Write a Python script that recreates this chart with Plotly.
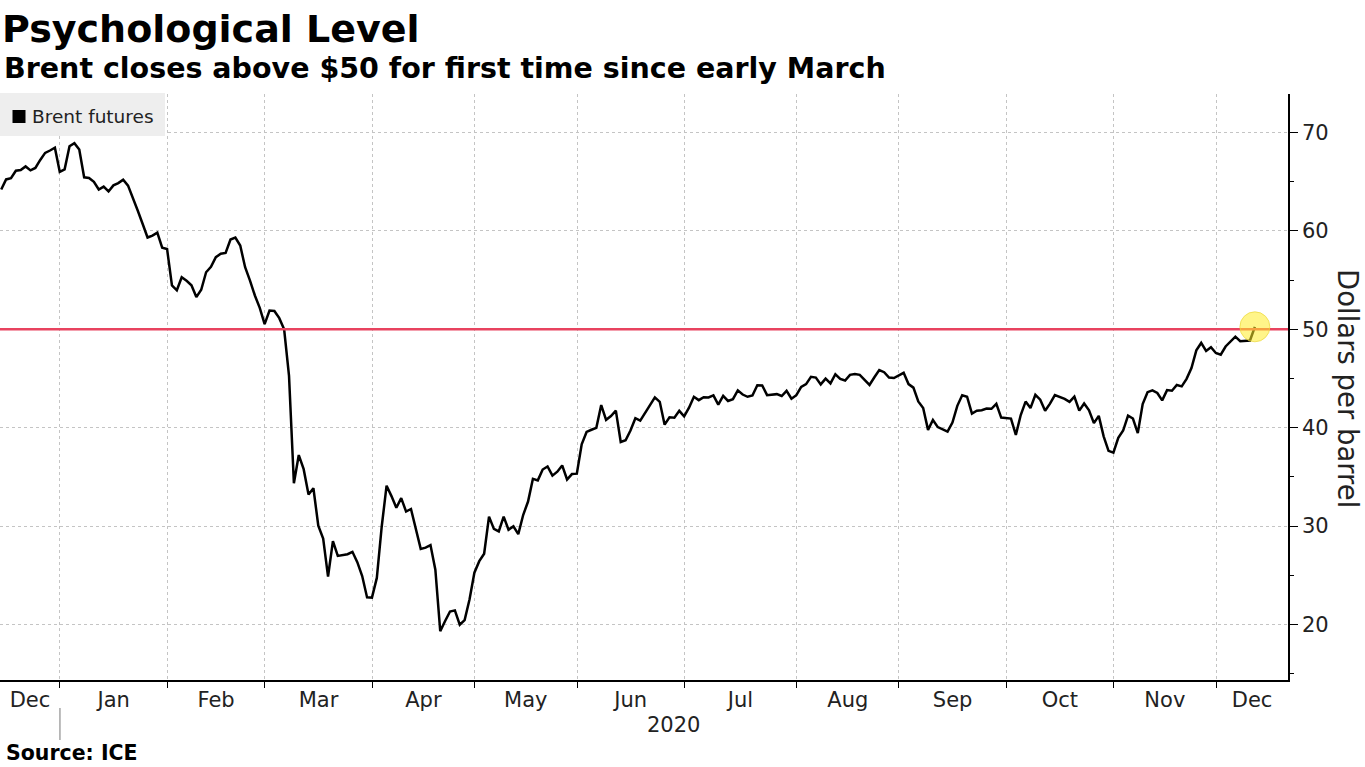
import pandas as pd
import plotly.graph_objects as go

# ---------------- data ----------------
series_name = "Brent futures"
first_session = "2019-12-12"
last_session = "2020-12-10"
closed_days = ["2019-12-25", "2020-01-01", "2020-04-10"]   # no settlement on these weekdays

dec_2019 = [64.20, 65.22, 65.34, 66.10, 66.17, 66.54, 66.14, 66.39, 67.20, 67.92, 68.16, 68.44, 66.00]
jan_2020 = [66.25, 68.60, 68.91, 68.27, 65.44, 65.37, 64.98, 64.20, 64.49, 64.00, 64.62, 64.85,
            65.20, 64.59, 63.21, 62.04, 60.69, 59.32, 59.51, 59.81, 58.29, 58.16]
feb_2020 = [54.45, 53.96, 55.28, 54.93, 54.47, 53.27, 54.01, 55.79, 56.34, 57.32, 57.67, 57.75,
            59.12, 59.31, 58.50, 56.30, 54.95, 53.43, 52.18, 50.52]
mar_2020 = [51.90, 51.86, 51.13, 49.99, 45.27, 34.36, 37.22, 35.79, 33.22, 33.85, 30.05, 28.73,
            24.88, 28.47, 26.98, 27.03, 27.15, 27.39, 26.34, 24.93, 22.76, 22.74]
apr_2020 = [24.74, 29.94, 34.11, 33.05, 31.87, 32.84, 31.48, 31.74, 29.60, 27.69, 27.82, 28.08,
            25.57, 19.33, 20.37, 21.33, 21.44, 19.99, 20.46, 22.54, 25.27]
may_2020 = [26.44, 27.20, 30.97, 29.72, 29.46, 30.97, 29.63, 29.98, 29.19, 31.13, 32.50, 34.81,
            34.65, 35.75, 36.06, 35.13, 35.53, 36.17, 34.74, 35.29, 35.33]
jun_2020 = [38.32, 39.57, 39.79, 39.99, 42.30, 40.80, 41.18, 41.73, 38.55, 38.73, 39.72, 40.96,
            40.71, 41.51, 42.19, 43.08, 42.63, 40.31, 41.05, 41.02, 41.71, 41.15]
jul_2020 = [42.03, 43.14, 42.80, 43.10, 43.08, 43.29, 42.35, 43.24, 42.72, 42.90, 43.79, 43.37,
            43.14, 43.28, 44.32, 44.29, 43.31, 43.34, 43.41, 43.22, 43.75, 42.94, 43.30]
aug_2020 = [44.15, 44.43, 45.17, 45.09, 44.40, 44.99, 44.50, 45.43, 44.96, 44.80, 45.37, 45.46,
            45.37, 44.90, 44.35, 45.13, 45.86, 45.64, 45.09, 45.05, 45.28]
sep_2020 = [45.58, 44.43, 44.07, 42.66, 42.01, 39.78, 40.79, 40.06, 39.83, 39.61, 40.53, 42.22,
            43.30, 43.15, 41.44, 41.72, 41.77, 41.94, 41.92, 42.43, 41.03, 40.95]
oct_2020 = [40.93, 39.27, 41.29, 42.65, 41.99, 43.34, 42.85, 41.72, 42.45, 43.32, 43.16, 42.93,
            42.62, 43.16, 41.73, 42.46, 41.77, 40.46, 41.20, 39.12, 37.65, 37.46]
nov_2020 = [38.97, 39.71, 41.23, 40.93, 39.45, 42.40, 43.61, 43.80, 43.53, 42.78, 43.82, 43.75,
            44.34, 44.20, 44.96, 46.06, 47.86, 48.61, 47.80, 48.18, 47.59]
dec_2020 = [47.42, 48.25, 48.71, 49.25, 48.79, 48.84, 48.86, 50.25]

month_labels = ["Dec", "Jan", "Feb", "Mar", "Apr", "May", "Jun", "Jul", "Aug", "Sep", "Oct", "Nov", "Dec"]
year_label = "2020"
y_ticks = [20, 30, 40, 50, 60, 70]
threshold = 50

title = "Psychological Level"
subtitle = "Brent closes above $50 for first time since early March"
y_title = "Dollars per barrel"
source = "Source: ICE"

# ---------------- series assembly ----------------
brent = (dec_2019 + jan_2020 + feb_2020 + mar_2020 + apr_2020 + may_2020 + jun_2020 +
         jul_2020 + aug_2020 + sep_2020 + oct_2020 + nov_2020 + dec_2020)
closed = pd.to_datetime(closed_days)
sessions = pd.bdate_range(first_session, last_session)
sessions = sessions[~sessions.isin(closed)]
assert len(sessions) == len(brent), (len(sessions), len(brent))
x_pts = sessions + pd.Timedelta(hours=23)  # each close drawn at the end of its session

# ---------------- layout geometry ----------------
W, H = 1365, 767
PL, PR, PT, PB = 0, 1288, 94, 680
x_start = pd.Timestamp("2019-12-12 17:00")
x_end = pd.Timestamp("2020-12-21 18:00")
y_range = [14.37, 73.9]

cal = pd.bdate_range("2019-11-01", "2021-02-28")
cal = cal[~cal.isin(closed)]


def to_slot(t):
    t = pd.Timestamp(t)
    d = t.normalize()
    i = cal.searchsorted(d)
    if i < len(cal) and cal[i] == d:
        return i + (t - d) / pd.Timedelta(days=1)
    return float(i)


def from_slot(s):
    i = int(s)
    return cal[i] + pd.Timedelta(days=s - i)


month_starts = pd.date_range("2020-01-01", "2020-12-01", freq="MS")
bounds = [from_slot(to_slot(m)) for m in month_starts]
edges = [x_start] + bounds + [x_end]
label_pos = [from_slot((to_slot(a) + to_slot(b)) / 2) for a, b in zip(edges[:-1], edges[1:])]
year_pos = from_slot((to_slot(bounds[0]) + to_slot(x_end)) / 2)


def px(xp):
    return (xp - PL) / (PR - PL)


def py(yp):
    return (PB - yp) / (PB - PT)


FONT = "DejaVu Sans"
GRID = "#c4c4c4"

fig = go.Figure()
fig.add_trace(go.Scatter(
    x=x_pts, y=brent, mode="lines", name=series_name,
    line=dict(color="black", width=2.5), hoverinfo="skip", showlegend=False,
))

shapes = [
    # $50 level
    dict(type="line", xref="paper", x0=0, x1=1, yref="y", y0=threshold, y1=threshold,
         line=dict(color="#e8435f", width=2.5), layer="above"),
    # highlight on last close
    dict(type="circle", xref="x", yref="y", xsizemode="pixel", ysizemode="pixel",
         xanchor=x_pts[-1], yanchor=brent[-1], x0=-15, x1=15, y0=-15, y1=15,
         fillcolor="rgba(255,236,40,0.55)", line=dict(color="rgba(235,215,60,0.7)", width=1),
         layer="above"),
    # legend box
    dict(type="rect", xref="paper", yref="paper", x0=px(0), x1=px(165), y0=py(136), y1=py(93),
         fillcolor="#eeeeee", line=dict(width=0), layer="above"),
    dict(type="rect", xref="paper", yref="paper", x0=px(12.5), x1=px(25.5), y0=py(123), y1=py(110),
         fillcolor="black", line=dict(width=0), layer="above"),
    # year separator
    dict(type="line", xref="x", yref="paper", x0=bounds[0], x1=bounds[0], y0=py(708), y1=py(740),
         line=dict(color="#777777", width=1)),
]

annotations = [
    dict(text="<b>%s</b>" % title, xref="paper", yref="paper", x=px(0), y=py(29),
         xanchor="left", yanchor="middle", showarrow=False,
         font=dict(family=FONT, size=38, color="black")),
    dict(text="<b>%s</b>" % subtitle, xref="paper", yref="paper", x=px(2), y=py(68),
         xanchor="left", yanchor="middle", showarrow=False,
         font=dict(family=FONT, size=28.5, color="black")),
    dict(text=series_name, xref="paper", yref="paper", x=px(30), y=py(116.5),
         xanchor="left", yanchor="middle", showarrow=False,
         font=dict(family=FONT, size=18.5, color="#222222")),
    dict(text=y_title, xref="paper", yref="paper", x=px(1348), y=py(388),
         xanchor="center", yanchor="middle", textangle=90, showarrow=False,
         font=dict(family=FONT, size=27.5, color="#222222")),
    dict(text=year_label, xref="x", yref="paper", x=year_pos, y=py(725),
         xanchor="center", yanchor="middle", showarrow=False,
         font=dict(family=FONT, size=21, color="#222222")),
    dict(text="<b>%s</b>" % source, xref="paper", yref="paper", x=px(4), y=py(753),
         xanchor="left", yanchor="middle", showarrow=False,
         font=dict(family=FONT, size=20.5, color="black")),
]

fig.update_layout(
    width=W, height=H, autosize=False,
    margin=dict(l=PL, r=W - PR, t=PT, b=H - PB, pad=0),
    paper_bgcolor="white", plot_bgcolor="white",
    font=dict(family=FONT, color="#222222"),
    showlegend=False,
    shapes=shapes, annotations=annotations,
    xaxis=dict(
        type="date", range=[x_start, x_end],
        rangebreaks=[dict(bounds=["sat", "mon"]), dict(values=closed_days)],
        tickmode="array", tickvals=label_pos, ticktext=month_labels,
        ticks="", ticklabelstandoff=0,
        tickfont=dict(family=FONT, size=21, color="#222222"),
        showgrid=False, zeroline=False,
        showline=True, linecolor="black", linewidth=1.5,
        minor=dict(tickmode="array", tickvals=bounds, ticks="outside", ticklen=6,
                   tickcolor="black", tickwidth=1, showgrid=True, gridcolor=GRID,
                   griddash="dot", gridwidth=1),
        fixedrange=True, automargin=False,
    ),
    yaxis=dict(
        side="right", range=y_range,
        tickmode="array", tickvals=y_ticks,
        ticks="outside", ticklen=8, tickcolor="black", tickwidth=1,
        tickfont=dict(family=FONT, size=21, color="#222222"),
        showgrid=True, gridcolor=GRID, griddash="dot", gridwidth=1,
        zeroline=False, showline=True, linecolor="black", linewidth=1.5,
        minor=dict(dtick=5, tick0=0, ticks="outside", ticklen=4, tickcolor="black",
                   tickwidth=1, showgrid=False),
        fixedrange=True, automargin=False,
    ),
)

fig.write_html("out.html", config={"displayModeBar": False},
               post_script="document.body.style.margin='0';document.body.style.overflow='hidden';")
